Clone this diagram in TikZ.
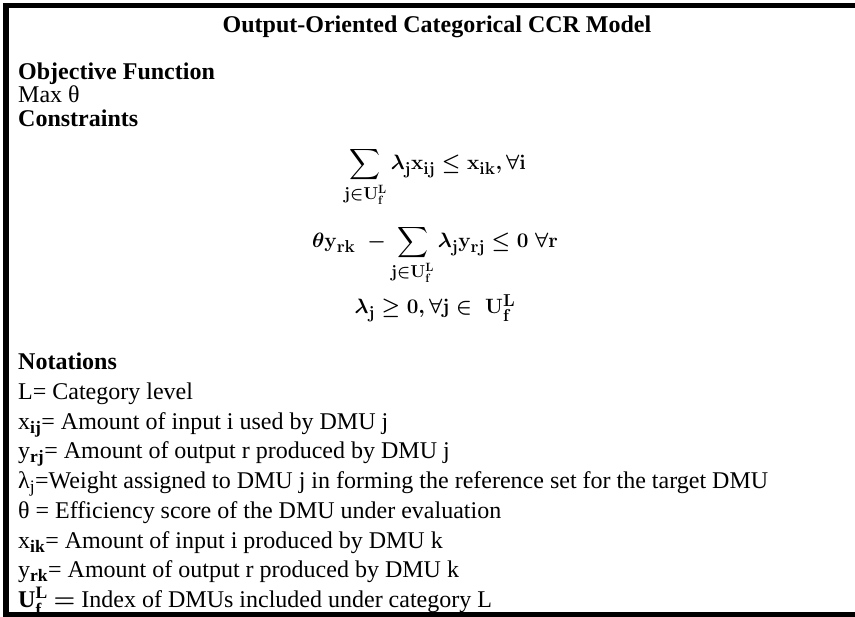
\documentclass[tikz,border=0pt]{standalone}
\usepackage{amsmath}
\usepackage{amssymb}
\usepackage{fontspec}
\setmainfont{Liberation Serif}
\usetikzlibrary{positioning}
\DeclareMathSizes{21.5}{21.5}{16}{12.5}
\DeclareMathSizes{24}{24}{17.5}{13.5}
\tikzset{
    txt/.style={anchor=base west, inner sep=0pt, font=\fontsize{24}{28}\selectfont},
    head/.style={anchor=base west, inner sep=0pt, font=\fontsize{24}{28}\selectfont\bfseries},
    eqn/.style={anchor=base, inner sep=0pt, font=\fontsize{21.5}{26}\selectfont\boldmath},
    frame/.style={line width=5.5pt, line join=miter}}
\newcommand{\bsub}[1]{\textsubscript{\textbf{#1}}}
\newcommand{\Uset}{\mathbf{U}^{\mathbf{L}}_{\mathbf{f}}}

\begin{document}
\begin{tikzpicture}[x=1pt,y=-1pt]
\useasboundingbox (0,0) rectangle (855,617);
\draw[frame] (855,5.5) -- (6,5.5) -- (6,614.5) -- (855,614.5);

%Title and objective
\node[head, anchor=base] (title) at (437,33) {Output-Oriented Categorical CCR Model};
\node[head] (obj) at (18,80) {Objective Function};
\node[txt] (max) at (18,103) {Max θ};
\node[head] (cons) at (18,127) {Constraints};

%Constraints
\node[eqn] (eqa) at (435,170) {$\displaystyle\sum_{\mathbf{j}\in\Uset}\lambda_{\mathbf{j}}\mathbf{x}_{\mathbf{ij}}\leq\mathbf{x}_{\mathbf{ik}},\forall\mathbf{i}$};
\node[eqn] (eqb) at (435,248) {$\displaystyle\theta\mathbf{y}_{\mathbf{rk}}\;-\sum_{\mathbf{j}\in\Uset}\lambda_{\mathbf{j}}\mathbf{y}_{\mathbf{rj}}\leq\mathbf{0}\;\forall\mathbf{r}$};
\node[eqn] (eqc) at (435,314) {$\lambda_{\mathbf{j}}\geq\mathbf{0},\forall\mathbf{j}\in\;\Uset$};

%Notations
\node[head] (nota) at (18,370) {Notations};
\node[txt] (n1) at (18,400) {L= Category level};
\node[txt] (n2) at (18,430) {x\bsub{ij}= Amount of input i used by DMU j};
\node[txt] (n3) at (18,459) {y\bsub{rj}= Amount of output r produced by DMU j};
\node[txt] (n4) at (18,489) {λ\textsubscript{j}=Weight assigned to DMU j in forming the reference set for the target DMU};
\node[txt] (n5) at (18,519) {θ = Efficiency score of the DMU under evaluation};
\node[txt] (n6) at (18,549) {x\bsub{ik}= Amount of input i produced by DMU k};
\node[txt] (n7) at (18,578) {y\bsub{rk}= Amount of output r produced by DMU k};
\node[txt] (n8) at (18,608) {$\Uset$ {\boldmath$=$} Index of DMUs included under category L};

\end{tikzpicture}
\end{document}
